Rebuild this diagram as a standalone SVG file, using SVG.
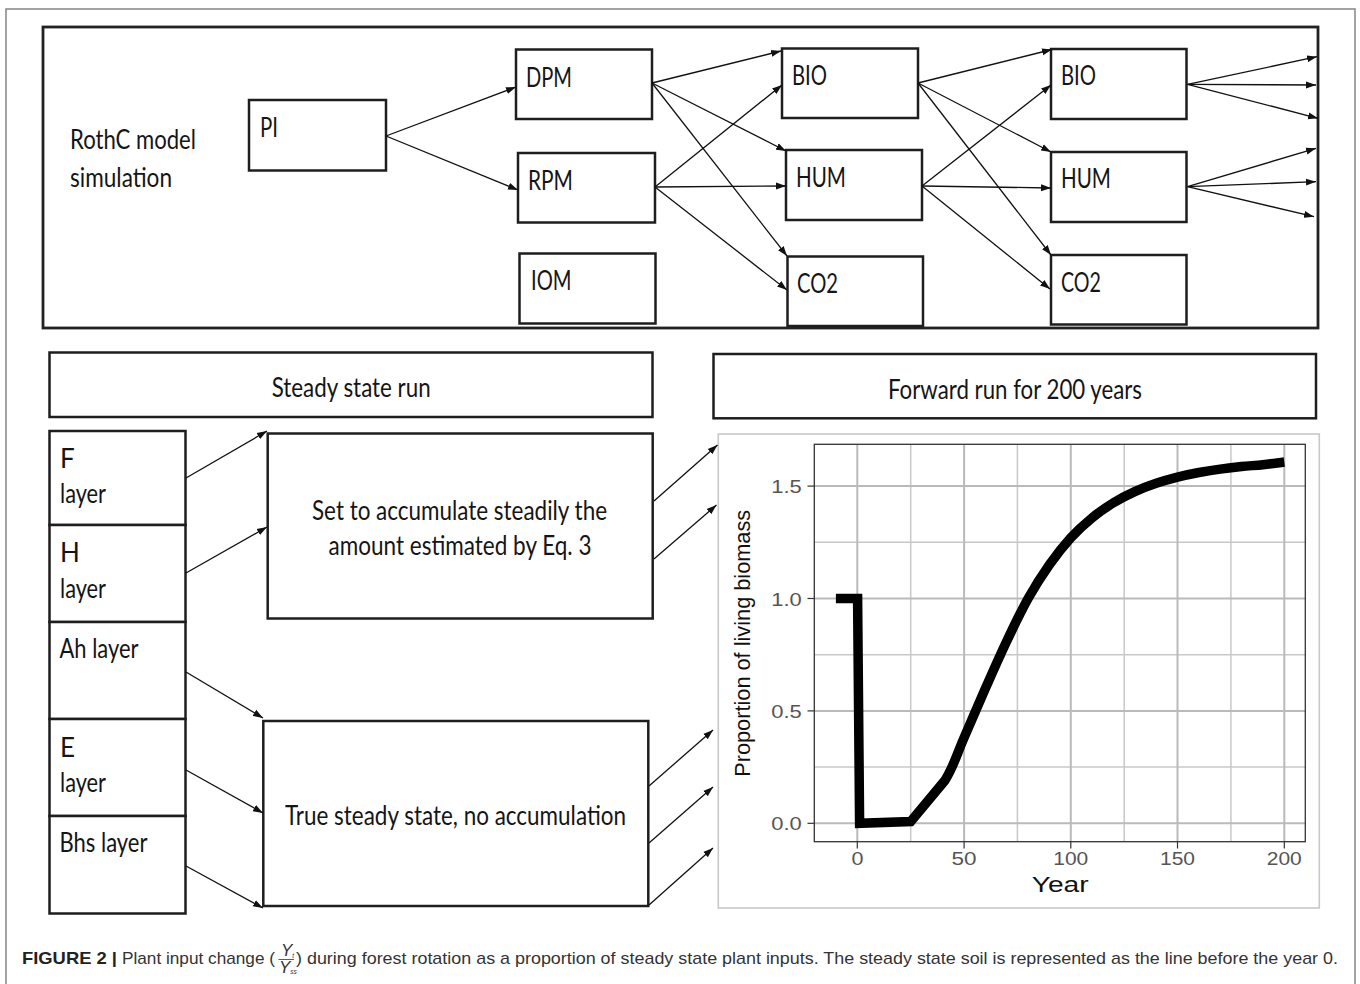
<svg xmlns="http://www.w3.org/2000/svg" width="1360" height="984" viewBox="0 0 1360 984">
<defs>
<marker id="ah" markerUnits="userSpaceOnUse" markerWidth="11" markerHeight="8" refX="10" refY="4" orient="auto">
<path d="M0,0.5 L10,4 L0,7.5 z" fill="#111"/>
</marker>
<style>
.box{fill:#fff;stroke:#1e1e1e;stroke-width:2.5}
.frame{fill:none;stroke:#222;stroke-width:2.8}
.lbl{font-family:Lato,"Liberation Sans",sans-serif;font-size:26px;fill:#151515}
.conn line{stroke:#111;stroke-width:1.3;marker-end:url(#ah)}
.gmaj{stroke:#bababa;stroke-width:2}
.gmin{stroke:#c8c8c8;stroke-width:1.5}
.tick{stroke:#333;stroke-width:1.2}
.tl{font-family:"Liberation Sans",Arial,sans-serif;font-size:18.5px;fill:#555}
.at{font-family:"Liberation Sans",Arial,sans-serif;fill:#111}
.cap{font-family:"Liberation Sans",Arial,sans-serif;font-size:17px;fill:#333}
</style>
</defs>
<rect x="0" y="0" width="1360" height="984" fill="#fff"/>
<rect x="6" y="9" width="1349" height="1000" fill="none" stroke="#8c8c8c" stroke-width="1.6"/>

<g id="top-panel">
<rect class="frame" x="43" y="27" width="1275" height="301"/>
<text class="lbl" x="70" y="149" textLength="126" lengthAdjust="spacingAndGlyphs">RothC model</text>
<text class="lbl" x="70" y="186.5" textLength="102" lengthAdjust="spacingAndGlyphs">simulation</text>
</g>
<g id="node-PI"><rect class="box" x="249" y="100" width="137" height="70.5"/><text class="lbl" x="260" y="137" textLength="18" lengthAdjust="spacingAndGlyphs">PI</text></g>
<g id="node-DPM"><rect class="box" x="516" y="49.5" width="136" height="69.5"/><text class="lbl" x="526" y="87" textLength="46" lengthAdjust="spacingAndGlyphs">DPM</text></g>
<g id="node-RPM"><rect class="box" x="518" y="153" width="137" height="69.5"/><text class="lbl" x="528" y="190" textLength="45" lengthAdjust="spacingAndGlyphs">RPM</text></g>
<g id="node-IOM"><rect class="box" x="519.5" y="253.5" width="136" height="70"/><text class="lbl" x="531" y="290" textLength="40.5" lengthAdjust="spacingAndGlyphs">IOM</text></g>
<g id="node-BIO1"><rect class="box" x="782" y="48.5" width="136" height="69.5"/><text class="lbl" x="792" y="85" textLength="35" lengthAdjust="spacingAndGlyphs">BIO</text></g>
<g id="node-HUM1"><rect class="box" x="786" y="150" width="136" height="70"/><text class="lbl" x="796" y="187" textLength="50" lengthAdjust="spacingAndGlyphs">HUM</text></g>
<g id="node-CO2-1"><rect class="box" x="787.5" y="256.5" width="135.5" height="69.5"/><text class="lbl" x="797" y="293" textLength="41" lengthAdjust="spacingAndGlyphs">CO2</text></g>
<g id="node-BIO2"><rect class="box" x="1051" y="49" width="135.5" height="70"/><text class="lbl" x="1061" y="85" textLength="35" lengthAdjust="spacingAndGlyphs">BIO</text></g>
<g id="node-HUM2"><rect class="box" x="1051" y="152" width="135.5" height="70"/><text class="lbl" x="1061" y="188" textLength="50" lengthAdjust="spacingAndGlyphs">HUM</text></g>
<g id="node-CO2-2"><rect class="box" x="1051" y="255" width="135.5" height="69.5"/><text class="lbl" x="1061" y="292" textLength="40" lengthAdjust="spacingAndGlyphs">CO2</text></g>

<g id="node-steady-header"><rect class="box" x="49.5" y="352.5" width="603" height="64.5"/><text class="lbl" x="271.7" y="397" textLength="159" lengthAdjust="spacingAndGlyphs">Steady state run</text></g>
<g id="node-forward-header"><rect class="box" x="713.5" y="354" width="602.5" height="64.3"/><text class="lbl" x="888" y="398.5" textLength="254" lengthAdjust="spacingAndGlyphs">Forward run for 200 years</text></g>

<g id="node-F"><rect class="box" x="49.5" y="431" width="136" height="94"/><text class="lbl" x="60" y="468">F</text><text class="lbl" x="60" y="503" textLength="46" lengthAdjust="spacingAndGlyphs">layer</text></g>
<g id="node-H"><rect class="box" x="49.5" y="525" width="136" height="97"/><text class="lbl" x="60" y="562">H</text><text class="lbl" x="60" y="598" textLength="46" lengthAdjust="spacingAndGlyphs">layer</text></g>
<g id="node-Ah"><rect class="box" x="49.5" y="622" width="136" height="97"/><text class="lbl" x="59.5" y="658" textLength="79" lengthAdjust="spacingAndGlyphs">Ah layer</text></g>
<g id="node-E"><rect class="box" x="49.5" y="719" width="136" height="97"/><text class="lbl" x="60" y="757">E</text><text class="lbl" x="60" y="792" textLength="46" lengthAdjust="spacingAndGlyphs">layer</text></g>
<g id="node-Bhs"><rect class="box" x="49.5" y="816" width="136" height="97.5"/><text class="lbl" x="59.5" y="852" textLength="88" lengthAdjust="spacingAndGlyphs">Bhs layer</text></g>

<g id="node-accumulate"><rect class="box" x="267.7" y="433.5" width="385" height="185"/>
<text class="lbl" x="312" y="519.5" textLength="295" lengthAdjust="spacingAndGlyphs">Set to accumulate steadily the</text>
<text class="lbl" x="328.5" y="555" textLength="263" lengthAdjust="spacingAndGlyphs">amount estimated by Eq. 3</text></g>
<g id="node-true-steady"><rect class="box" x="263.3" y="721" width="385" height="185"/>
<text class="lbl" x="285" y="825" textLength="341" lengthAdjust="spacingAndGlyphs">True steady state, no accumulation</text></g>

<g id="node-chart">
<rect x="718.3" y="434" width="601" height="474" fill="#fff" stroke="#c8c8c8" stroke-width="1.6"/>
<rect x="814.3" y="444.3" width="491" height="397.4" fill="#fff"/>
<g>
<line class="gmin" x1="814.3" y1="542.3" x2="1305.3" y2="542.3"/>
<line class="gmin" x1="814.3" y1="654.7" x2="1305.3" y2="654.7"/>
<line class="gmin" x1="814.3" y1="767.1" x2="1305.3" y2="767.1"/>
<line class="gmin" x1="910.7" y1="444.3" x2="910.7" y2="841.7"/>
<line class="gmin" x1="1017.4" y1="444.3" x2="1017.4" y2="841.7"/>
<line class="gmin" x1="1124.2" y1="444.3" x2="1124.2" y2="841.7"/>
<line class="gmin" x1="1230.9" y1="444.3" x2="1230.9" y2="841.7"/>
<line class="gmaj" x1="814.3" y1="486.1" x2="1305.3" y2="486.1"/>
<line class="gmaj" x1="814.3" y1="598.5" x2="1305.3" y2="598.5"/>
<line class="gmaj" x1="814.3" y1="710.9" x2="1305.3" y2="710.9"/>
<line class="gmaj" x1="814.3" y1="823.3" x2="1305.3" y2="823.3"/>
<line class="gmaj" x1="857.3" y1="444.3" x2="857.3" y2="841.7"/>
<line class="gmaj" x1="964.1" y1="444.3" x2="964.1" y2="841.7"/>
<line class="gmaj" x1="1070.8" y1="444.3" x2="1070.8" y2="841.7"/>
<line class="gmaj" x1="1177.5" y1="444.3" x2="1177.5" y2="841.7"/>
<line class="gmaj" x1="1284.3" y1="444.3" x2="1284.3" y2="841.7"/>
</g>
<rect x="814.3" y="444.3" width="491" height="397.4" fill="none" stroke="#333" stroke-width="1.3"/>
<g>
<line class="tick" x1="807.5" y1="486.1" x2="814.3" y2="486.1"/>
<line class="tick" x1="807.5" y1="598.5" x2="814.3" y2="598.5"/>
<line class="tick" x1="807.5" y1="710.9" x2="814.3" y2="710.9"/>
<line class="tick" x1="807.5" y1="823.3" x2="814.3" y2="823.3"/>
<line class="tick" x1="857.3" y1="841.7" x2="857.3" y2="848.5"/>
<line class="tick" x1="964.1" y1="841.7" x2="964.1" y2="848.5"/>
<line class="tick" x1="1070.8" y1="841.7" x2="1070.8" y2="848.5"/>
<line class="tick" x1="1177.5" y1="841.7" x2="1177.5" y2="848.5"/>
<line class="tick" x1="1284.3" y1="841.7" x2="1284.3" y2="848.5"/>
</g>
<text class="tl" x="801.7" y="493" text-anchor="end" textLength="30.5" lengthAdjust="spacingAndGlyphs">1.5</text>
<text class="tl" x="801.7" y="605.5" text-anchor="end" textLength="30.5" lengthAdjust="spacingAndGlyphs">1.0</text>
<text class="tl" x="801.7" y="718" text-anchor="end" textLength="30.5" lengthAdjust="spacingAndGlyphs">0.5</text>
<text class="tl" x="801.7" y="830.3" text-anchor="end" textLength="30.5" lengthAdjust="spacingAndGlyphs">0.0</text>
<text class="tl" x="851.5" y="865" textLength="12" lengthAdjust="spacingAndGlyphs">0</text>
<text class="tl" x="951.6" y="865" textLength="25" lengthAdjust="spacingAndGlyphs">50</text>
<text class="tl" x="1053.3" y="865" textLength="35" lengthAdjust="spacingAndGlyphs">100</text>
<text class="tl" x="1160" y="865" textLength="35" lengthAdjust="spacingAndGlyphs">150</text>
<text class="tl" x="1266.8" y="865" textLength="35" lengthAdjust="spacingAndGlyphs">200</text>
<text class="at" x="1031.7" y="891.7" font-size="22.4" textLength="57" lengthAdjust="spacingAndGlyphs">Year</text>
<text class="at" transform="translate(749.5,643.3) rotate(-90)" x="0" y="0" font-size="21.6" text-anchor="middle" textLength="267" lengthAdjust="spacingAndGlyphs">Proportion of living biomass</text>
<path d="M835.9,598.5 L857.6,598.5 L859.6,823.3 L910.7,821.5 L944.8,780.6 C953.68,766.67 957.23,753.27 964.0,737.9 C970.77,722.53 978.28,704.52 985.4,688.4 C992.52,672.28 999.58,656.18 1006.7,641.2 C1013.82,626.22 1020.98,611.23 1028.1,598.5 C1035.22,585.77 1042.28,574.92 1049.4,564.8 C1056.52,554.68 1063.68,545.63 1070.8,537.8 C1077.92,529.97 1084.98,523.65 1092.1,517.8 C1099.22,511.95 1106.38,507.07 1113.5,502.7 C1120.62,498.33 1127.68,494.83 1134.8,491.6 C1141.92,488.37 1149.08,485.72 1156.2,483.3 C1163.32,480.88 1170.38,478.9 1177.5,477.1 C1184.62,475.3 1191.78,473.83 1198.9,472.5 C1206.02,471.17 1213.08,470.1 1220.2,469.1 C1227.32,468.1 1234.48,467.23 1241.6,466.5 C1248.72,465.77 1255.78,465.45 1262.9,464.7 C1270.02,463.95 1277.17,462.9 1284.3,462.0" fill="none" stroke="#000" stroke-width="9.5" stroke-linejoin="miter" stroke-linecap="butt"/>
</g>

<g id="connectors" class="conn">
<line x1="386" y1="136" x2="516" y2="87"/>
<line x1="386" y1="136" x2="518" y2="190"/>
<line x1="652" y1="83" x2="781" y2="51"/>
<line x1="652" y1="83" x2="786" y2="151"/>
<line x1="652" y1="83" x2="787" y2="256"/>
<line x1="655" y1="187" x2="782" y2="85"/>
<line x1="655" y1="187" x2="786" y2="186"/>
<line x1="655" y1="187" x2="787" y2="290"/>
<line x1="918" y1="83" x2="1052" y2="49.5"/>
<line x1="918" y1="83" x2="1051" y2="152"/>
<line x1="918" y1="83" x2="1051" y2="255"/>
<line x1="922" y1="186" x2="1051" y2="85"/>
<line x1="922" y1="186" x2="1051" y2="188"/>
<line x1="922" y1="186" x2="1050" y2="289"/>
<line x1="1187.5" y1="84.3" x2="1317" y2="56.7"/>
<line x1="1187.5" y1="84.3" x2="1316" y2="85"/>
<line x1="1187.5" y1="84.3" x2="1318" y2="118.3"/>
<line x1="1187.5" y1="186.7" x2="1316" y2="148.3"/>
<line x1="1187.5" y1="186.7" x2="1316" y2="181.7"/>
<line x1="1187.5" y1="186.7" x2="1314" y2="216.7"/>
<line x1="186" y1="478" x2="267" y2="431"/>
<line x1="186" y1="573" x2="267" y2="527"/>
<line x1="186" y1="672" x2="263" y2="718"/>
<line x1="186" y1="770" x2="263" y2="813"/>
<line x1="186" y1="866" x2="263" y2="908"/>
<line x1="654" y1="501" x2="717.5" y2="445"/>
<line x1="654" y1="559" x2="716.5" y2="505"/>
<line x1="649" y1="786" x2="713" y2="730"/>
<line x1="649" y1="843" x2="713" y2="787"/>
<line x1="649" y1="905" x2="713" y2="848"/>
</g>

<g id="caption">
<text class="cap" x="22" y="964"><tspan font-weight="bold" fill="#222" textLength="95" lengthAdjust="spacingAndGlyphs">FIGURE 2 |</tspan></text>
<text class="cap" x="122" y="964" textLength="153" lengthAdjust="spacingAndGlyphs">Plant input change (</text>
<text class="cap" x="281" y="956" font-size="9" font-style="italic">Y<tspan font-size="6.5" dy="1.5">t</tspan></text>
<line x1="278.5" y1="959.5" x2="294" y2="959.5" stroke="#333" stroke-width="0.8"/>
<text class="cap" x="279" y="972.5" font-size="9" font-style="italic">Y<tspan font-size="6.5" dy="1.5">ss</tspan></text>
<text class="cap" x="296" y="964" textLength="1042" lengthAdjust="spacingAndGlyphs">) during forest rotation as a proportion of steady state plant inputs. The steady state soil is represented as the line before the year 0.</text>
</g>
</svg>
